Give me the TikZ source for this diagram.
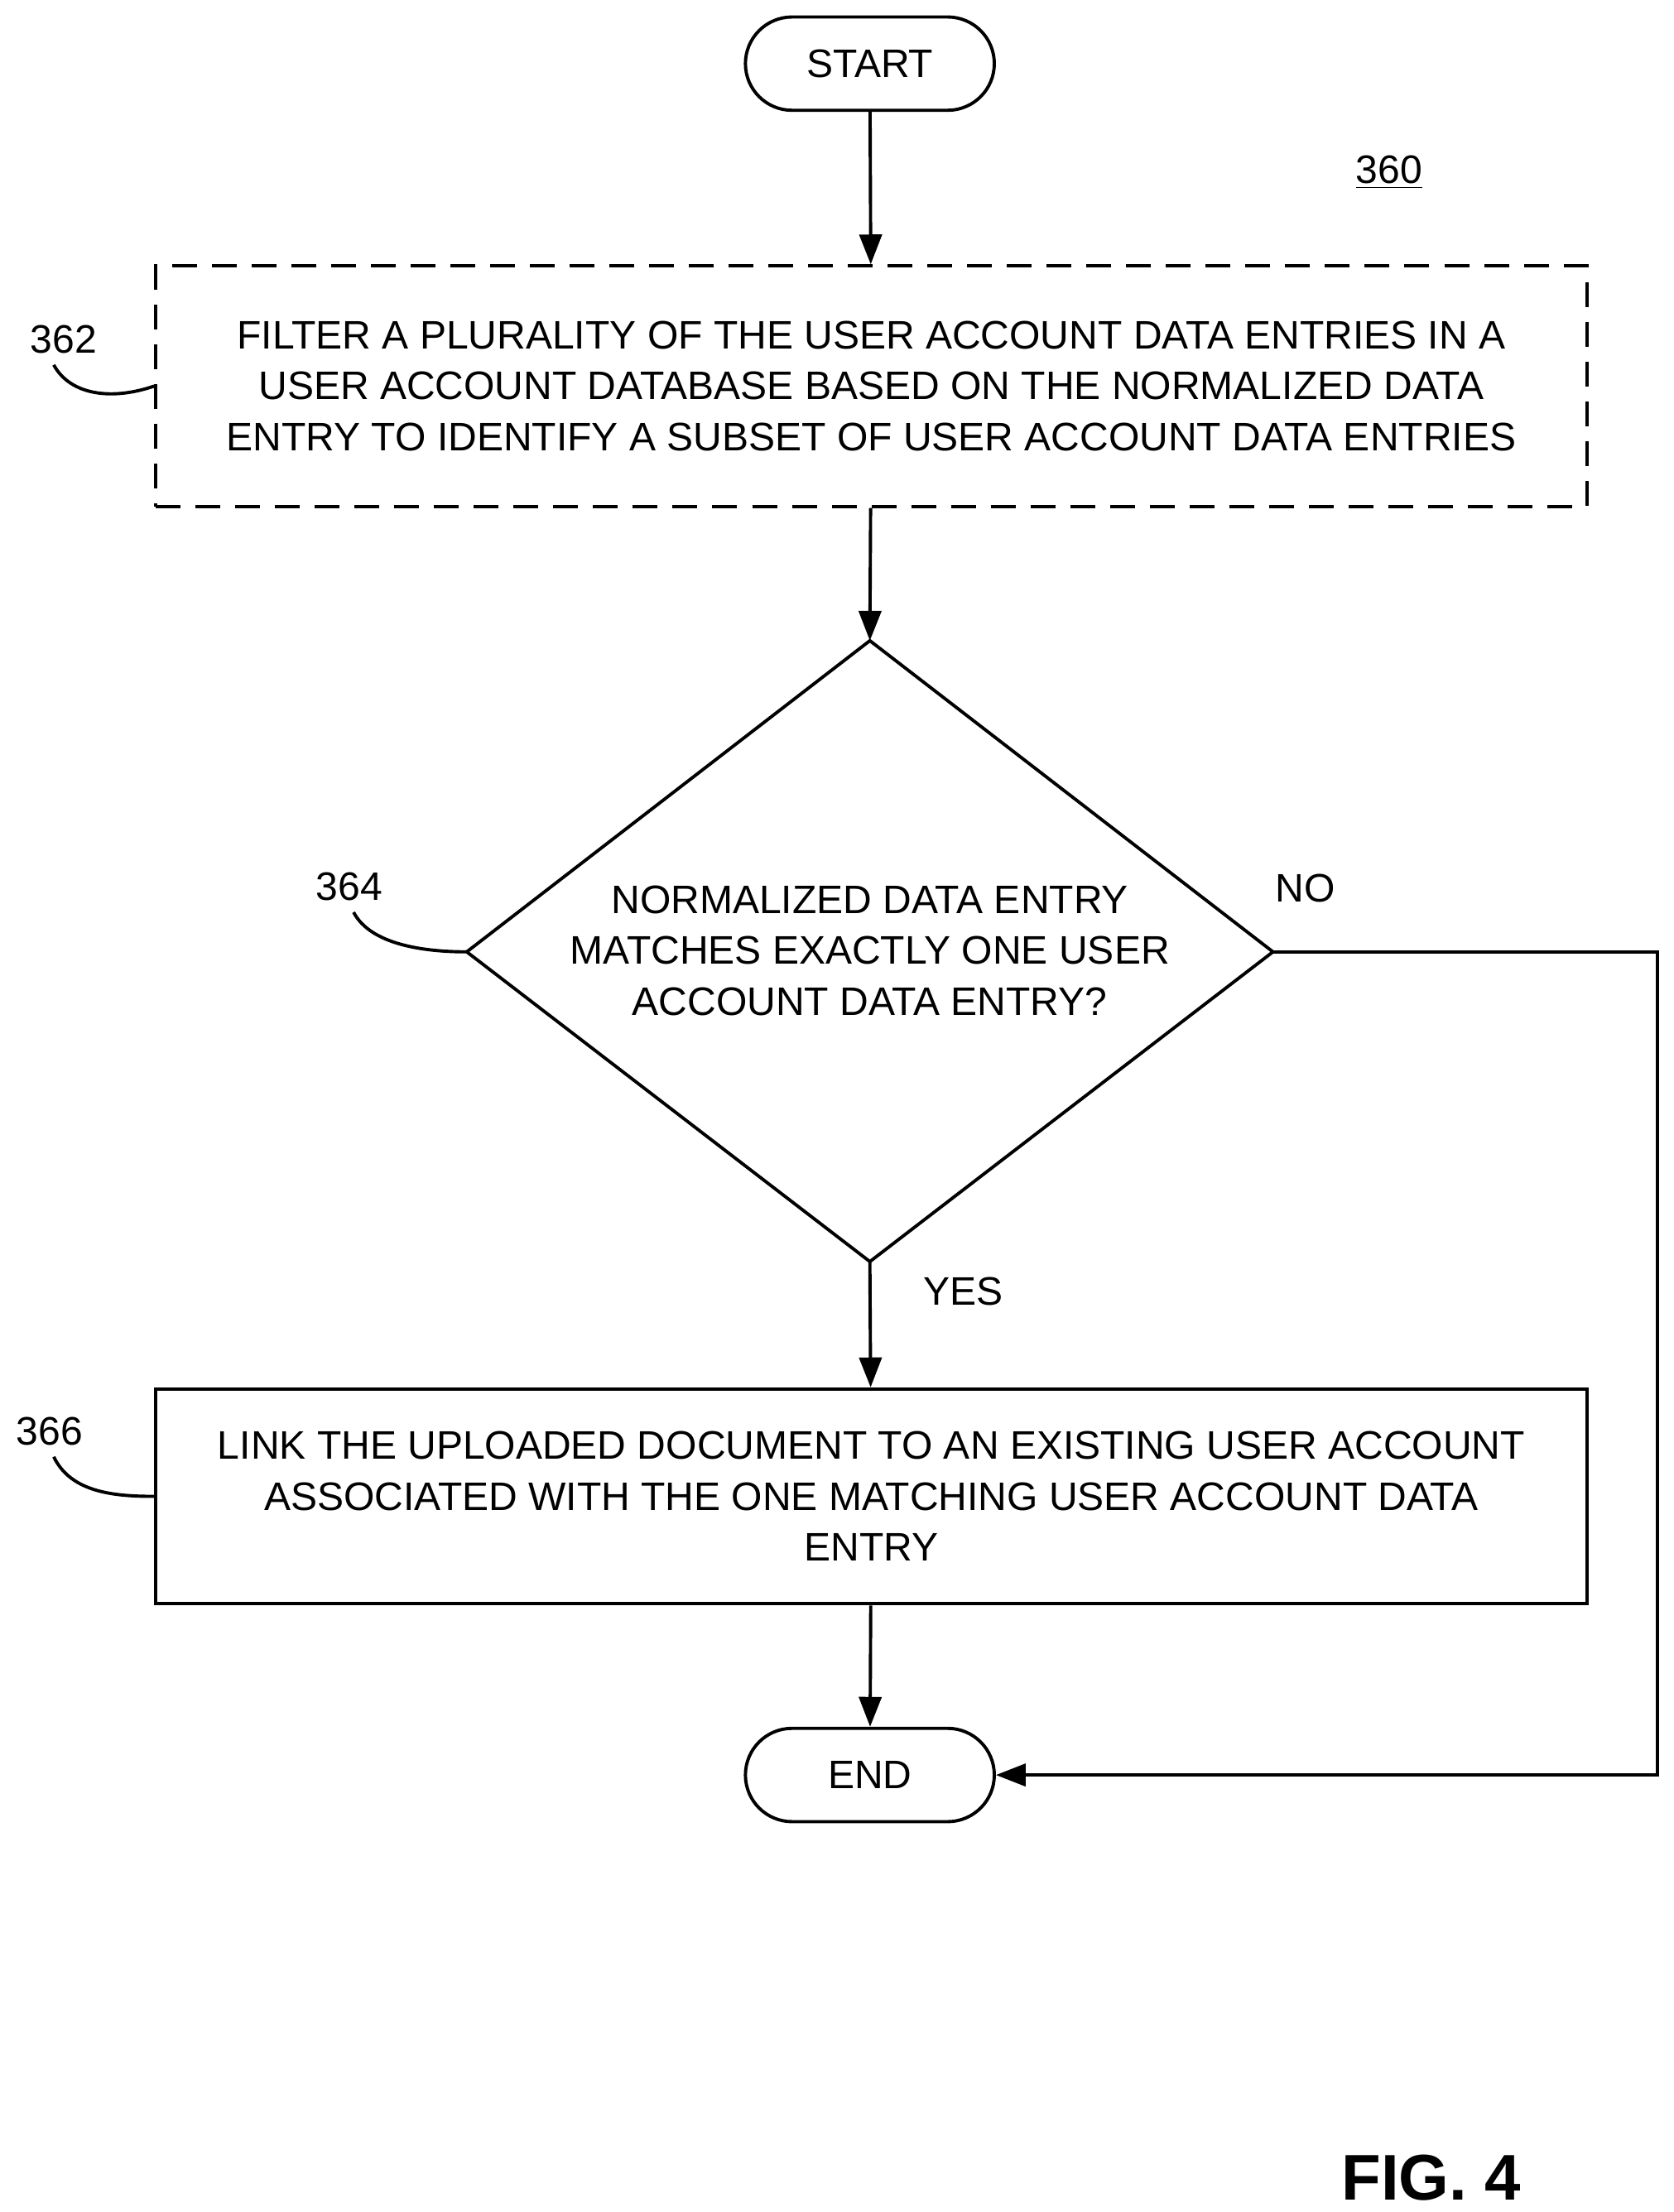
\documentclass[tikz,border=0pt]{standalone}
\usepackage{fontspec}
\setmainfont{Liberation Sans}
\usetikzlibrary{shapes.geometric,arrows.meta}
\begin{document}
\begin{tikzpicture}[x=0.02cm,y=-0.02cm,
  every node/.style={font=\fontsize{16}{20.5}\selectfont},
  line/.style={line width=1.3pt},
  arr/.style={line, -{Triangle[length=12pt,width=9pt]}},
  term/.style={line, draw, rounded corners=0.66cm, minimum width=3.52cm, minimum height=1.32cm},
  box/.style={line, draw, minimum width=20.24cm, align=center},
  lbl/.style={font=\fontsize{16}{20}\selectfont}]
\useasboundingbox (0,0) rectangle (1183,1564);
\node[term] (start) at (615,45) {START};
\node[lbl] (n360) at (982,122) {\underline{360}};
\node[box, dashed, dash pattern=on 10pt off 6pt, minimum height=3.4cm] (b362) at (616,273) {FILTER A PLURALITY OF THE USER ACCOUNT DATA ENTRIES IN A\\USER ACCOUNT DATABASE BASED ON THE NORMALIZED DATA\\ENTRY TO IDENTIFY A SUBSET OF USER ACCOUNT DATA ENTRIES};
\node[lbl] (n362) at (45,240) {362};
\coordinate (dt) at (615,453);
\coordinate (db) at (615,892);
\coordinate (dl) at (330,673);
\coordinate (dr) at (900,673);
\draw[line] (dt) -- (dr) -- (db) -- (dl) -- cycle;
\node[align=center] (d364) at (615,672) {NORMALIZED DATA ENTRY\\MATCHES EXACTLY ONE USER\\ACCOUNT DATA ENTRY?};
\node[lbl] (n364) at (247,627) {364};
\node (no) at (923,628) {NO};
\node (yes) at (681,913) {YES};
\node[box, minimum height=3.04cm] (b366) at (616,1058) {LINK THE UPLOADED DOCUMENT TO AN EXISTING USER ACCOUNT\\ASSOCIATED WITH THE ONE MATCHING USER ACCOUNT DATA\\ENTRY};
\node[lbl] (n366) at (35,1012) {366};
\node[term] (end) at (615,1255) {END};
\node[font=\fontsize{26}{30}\selectfont\bfseries] (fig) at (1012,1540) {FIG. 4};
\coordinate (c1) at (1172,673);
\coordinate (c2) at (1172,1255);
\draw[arr] (start) -- (b362);
\draw[arr] (b362) -- (dt);
\draw[arr] (db) -- (b366);
\draw[arr] (b366) -- (end);
\draw[arr] (dr) -- (c1) -- (c2) -- (end);
\draw[line] (38,258) .. controls (50,280) and (80,283) .. (b362.west);
\draw[line] (250,645) .. controls (262,668) and (300,673) .. (dl);
\draw[line] (38,1030) .. controls (50,1055) and (80,1058) .. (b366.west);
\end{tikzpicture}
\end{document}
